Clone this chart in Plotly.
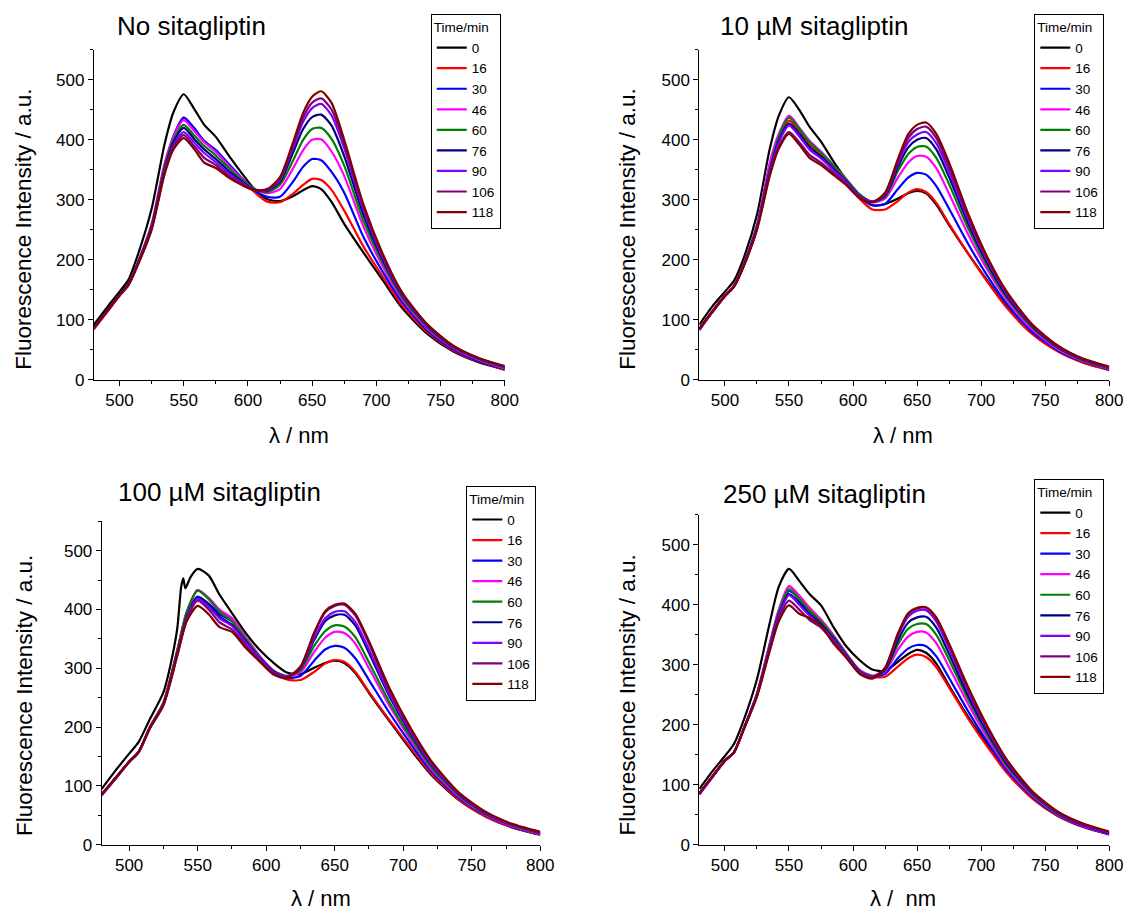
import plotly.graph_objects as go

# ---------------- data ----------------
wavelength = [480, 490, 500, 507, 515, 525, 535, 542, 550, 558, 566, 575, 585, 595, 605,
              615, 625, 635, 643, 650, 657, 665, 675, 690, 705, 720, 740, 760, 780, 800]
# panel 3, t = 0 has a small spike near 540 nm, so it has its own wavelength list
wavelength_p3_t0 = [480, 490, 500, 507, 515, 525, 530, 535, 538, 539.5, 541, 545, 550, 558, 566,
                    575, 585, 595, 605, 615, 625, 635, 643, 650, 657, 665, 675, 690, 705, 720,
                    740, 760, 780, 800]

times = ["0", "16", "30", "46", "60", "76", "90", "106", "118"]
panel_titles = ["No sitagliptin", "10 µM sitagliptin", "100 µM sitagliptin", "250 µM sitagliptin"]
x_titles = ["λ / nm", "λ / nm", "λ / nm", "λ /\u00a0 nm"]
y_title = "Fluorescence Intensity / a.u."
colors = ["#000000", "#FF0000", "#0000FF", "#FF00FF", "#008000", "#000080", "#8000FF", "#800080", "#800000"]
x_tick_values = [500, 550, 600, 650, 700, 750, 800]
y_tick_values = [0, 100, 200, 300, 400, 500]

# Panel 1: no sitagliptin
p1_t0 = [92, 120, 147, 167, 213, 285, 392, 446, 476, 452, 425, 405, 374, 345, 318, 301, 298, 306, 316, 323, 318, 297, 260, 212, 166, 120, 76, 47, 29, 17]
p1_t16 = [84, 112, 140, 158, 197, 255, 355, 405, 437, 418, 398, 382, 358, 335, 313, 297, 296, 310, 325, 335, 333, 317, 282, 222, 172, 124, 79, 49, 30, 17]
p1_t30 = [86, 113, 141, 159, 198, 257, 355, 406, 437, 420, 398, 383, 360, 337, 316, 305, 305, 330, 355, 368, 366, 347, 312, 238, 180, 130, 82, 51, 31, 18]
p1_t46 = [86, 113, 141, 160, 200, 260, 360, 405, 433, 415, 396, 380, 357, 336, 318, 311, 318, 352, 383, 400, 401, 381, 340, 255, 189, 135, 85, 53, 33, 19]
p1_t60 = [87, 114, 142, 160, 199, 257, 355, 400, 425, 408, 390, 374, 353, 334, 318, 313, 325, 365, 400, 418, 420, 402, 357, 265, 195, 138, 87, 54, 34, 20]
p1_t76 = [87, 114, 142, 160, 198, 255, 350, 396, 420, 402, 384, 368, 348, 331, 317, 315, 330, 378, 418, 438, 442, 424, 373, 275, 200, 141, 89, 55, 35, 21]
p1_t90 = [86, 113, 141, 159, 197, 253, 347, 391, 413, 396, 378, 363, 344, 329, 316, 316, 333, 386, 430, 453, 460, 441, 386, 283, 204, 143, 90, 56, 35, 21]
p1_t106 = [86, 113, 141, 159, 196, 252, 345, 388, 408, 390, 370, 358, 340, 327, 316, 317, 335, 390, 437, 462, 469, 451, 393, 288, 207, 145, 91, 56, 36, 22]
p1_t118 = [87, 114, 141, 158, 195, 250, 342, 384, 403, 385, 362, 353, 337, 325, 316, 318, 338, 395, 445, 472, 481, 462, 400, 292, 210, 146, 92, 57, 36, 23]

# Panel 2: 10 uM sitagliptin
p2_t0 = [92, 122, 147, 165, 205, 275, 385, 440, 471, 450, 422, 397, 363, 333, 306, 291, 293, 302, 311, 315, 311, 292, 258, 210, 165, 122, 78, 48, 29, 17]
p2_t16 = [83, 112, 139, 155, 192, 255, 350, 400, 432, 415, 392, 376, 352, 328, 302, 284, 284, 298, 312, 318, 313, 295, 260, 210, 163, 120, 76, 47, 28, 16]
p2_t30 = [85, 113, 140, 156, 194, 257, 352, 404, 440, 420, 398, 380, 356, 332, 306, 291, 293, 318, 337, 345, 342, 323, 285, 226, 173, 127, 80, 49, 30, 17]
p2_t46 = [84, 113, 140, 156, 194, 258, 362, 410, 440, 420, 398, 380, 357, 334, 309, 296, 302, 337, 362, 373, 372, 353, 310, 242, 183, 133, 84, 51, 31, 18]
p2_t60 = [85, 113, 140, 156, 193, 256, 352, 405, 437, 418, 396, 378, 356, 333, 309, 297, 305, 348, 376, 388, 389, 370, 326, 252, 189, 137, 87, 53, 32, 19]
p2_t76 = [85, 113, 140, 156, 193, 254, 348, 398, 427, 410, 388, 372, 351, 330, 307, 297, 307, 355, 387, 400, 403, 384, 338, 260, 194, 140, 89, 54, 33, 20]
p2_t90 = [83, 113, 140, 156, 192, 253, 346, 395, 424, 406, 384, 369, 349, 329, 306, 297, 309, 360, 396, 409, 413, 394, 347, 266, 198, 143, 90, 55, 34, 20]
p2_t106 = [84, 113, 140, 156, 192, 251, 342, 388, 413, 396, 375, 362, 344, 326, 304, 296, 310, 364, 403, 418, 422, 403, 355, 271, 201, 145, 91, 56, 34, 21]
p2_t118 = [85, 114, 140, 155, 191, 250, 340, 385, 410, 392, 370, 358, 341, 324, 303, 296, 312, 368, 409, 425, 429, 410, 362, 276, 204, 147, 92, 57, 35, 22]

# Panel 3: 100 uM sitagliptin
p3_t0 = [95, 126, 155, 175, 213, 259, 304, 366, 439, 453, 436, 456, 469, 458, 425, 394, 360, 332, 310, 293, 290, 301, 309, 313, 309, 292, 258, 210, 163, 120, 77, 48, 29, 17]
p3_t16 = [84, 112, 141, 158, 200, 242, 330, 395, 433, 418, 397, 385, 352, 320, 296, 281, 280, 294, 308, 314, 311, 294, 260, 212, 166, 122, 78, 48, 29, 17]
p3_t30 = [85, 112, 141, 158, 199, 240, 327, 390, 422, 410, 392, 380, 350, 320, 296, 284, 287, 313, 332, 338, 335, 317, 280, 224, 173, 126, 81, 50, 30, 18]
p3_t46 = [84, 112, 141, 158, 199, 241, 328, 395, 433, 420, 400, 385, 353, 322, 297, 286, 293, 328, 352, 362, 360, 342, 300, 236, 180, 130, 83, 51, 31, 18]
p3_t60 = [85, 113, 141, 158, 199, 241, 329, 396, 432, 418, 396, 380, 350, 320, 296, 287, 297, 338, 363, 373, 371, 353, 310, 242, 184, 133, 85, 52, 32, 19]
p3_t76 = [85, 113, 141, 158, 198, 239, 325, 388, 420, 408, 388, 374, 346, 318, 295, 286, 300, 348, 380, 390, 391, 373, 326, 252, 190, 137, 87, 53, 33, 20]
p3_t90 = [85, 113, 141, 158, 198, 239, 324, 386, 418, 405, 385, 372, 344, 317, 294, 286, 301, 352, 385, 396, 397, 379, 332, 256, 193, 139, 88, 54, 33, 20]
p3_t106 = [86, 113, 141, 158, 198, 238, 322, 383, 415, 400, 378, 366, 339, 314, 292, 285, 303, 360, 395, 406, 408, 390, 342, 262, 197, 142, 89, 55, 34, 21]
p3_t118 = [86, 114, 141, 158, 197, 237, 320, 380, 406, 392, 370, 362, 335, 312, 290, 283, 302, 360, 397, 408, 410, 393, 346, 266, 200, 144, 90, 56, 35, 22]

# Panel 4: 250 uM sitagliptin
p4_t0 = [93, 122, 148, 168, 210, 276, 370, 430, 460, 440, 418, 399, 362, 330, 308, 292, 290, 305, 318, 325, 320, 302, 265, 213, 167, 123, 78, 48, 30, 18]
p4_t16 = [84, 112, 140, 153, 195, 252, 335, 390, 431, 415, 395, 375, 348, 318, 291, 280, 280, 297, 311, 317, 313, 296, 262, 210, 163, 120, 77, 48, 29, 17]
p4_t30 = [85, 113, 140, 154, 195, 250, 332, 385, 423, 410, 390, 372, 346, 317, 291, 281, 285, 311, 327, 333, 331, 314, 278, 222, 171, 125, 80, 49, 30, 17]
p4_t46 = [84, 112, 140, 154, 196, 252, 336, 392, 431, 415, 394, 375, 348, 318, 291, 282, 289, 325, 347, 355, 354, 336, 296, 234, 178, 129, 82, 50, 31, 18]
p4_t60 = [85, 113, 140, 154, 195, 251, 333, 388, 426, 410, 390, 372, 346, 317, 290, 281, 291, 334, 360, 368, 368, 350, 308, 242, 183, 132, 84, 51, 32, 19]
p4_t76 = [85, 113, 140, 154, 195, 250, 330, 383, 418, 404, 385, 368, 343, 315, 289, 280, 292, 341, 370, 379, 380, 362, 318, 248, 187, 135, 86, 52, 32, 19]
p4_t90 = [84, 112, 140, 154, 195, 250, 329, 381, 416, 400, 382, 365, 341, 314, 288, 280, 294, 348, 380, 390, 391, 372, 327, 254, 191, 138, 87, 53, 33, 20]
p4_t106 = [85, 113, 140, 154, 194, 248, 326, 377, 407, 392, 375, 362, 338, 312, 287, 279, 295, 351, 384, 394, 395, 377, 332, 258, 194, 140, 88, 54, 34, 21]
p4_t118 = [86, 114, 141, 154, 194, 247, 323, 372, 399, 385, 378, 365, 335, 311, 285, 277, 295, 352, 386, 395, 396, 379, 335, 262, 197, 142, 89, 55, 35, 22]

panels = [
    [p1_t0, p1_t16, p1_t30, p1_t46, p1_t60, p1_t76, p1_t90, p1_t106, p1_t118],
    [p2_t0, p2_t16, p2_t30, p2_t46, p2_t60, p2_t76, p2_t90, p2_t106, p2_t118],
    [p3_t0, p3_t16, p3_t30, p3_t46, p3_t60, p3_t76, p3_t90, p3_t106, p3_t118],
    [p4_t0, p4_t16, p4_t30, p4_t46, p4_t60, p4_t76, p4_t90, p4_t106, p4_t118],
]

# ---------------- layout geometry ----------------
W, H = 1142, 921
FONT = "Liberation Sans, Arial, sans-serif"

# pixel boxes of the four plot areas: (x_left, x_right, y_bottom(0), y_top(550))
boxes = [(95, 511, 384, 50.4), (708, 1123, 384, 50.4), (103, 547, 854, 527), (708, 1123, 854, 520.5)]
legend_pos = [(507, 14), (1118, 14), (543, 491), (1118, 484)]
title_pos = [(116, 26), (727, 26), (117, 497), (730, 499)]
ytitle_pos = [(23.6, 232), (635, 232), (25.5, 703.5), (635.5, 702.5)]
xtitle_pos = [(303, 440), (914, 440), (325, 908), (914, 908)]

fig = go.Figure()
suffixes = ["", "2", "3", "4"]
for p, series in enumerate(panels):
    s = suffixes[p]
    for i, vals in enumerate(series):
        xs = wavelength_p3_t0 if (p == 2 and i == 0) else wavelength
        fig.add_trace(go.Scatter(
            x=xs, y=vals, mode="lines", name=times[i],
            line=dict(color=colors[i], width=2.2, shape="spline", smoothing=0.7),
            xaxis="x" + s, yaxis="y" + s, legend="legend" + s,
            showlegend=True, hoverinfo="skip",
        ))

layout = dict(
    width=W, height=H, autosize=False,
    margin=dict(l=0, r=0, t=0, b=0),
    paper_bgcolor="white", plot_bgcolor="white",
    font=dict(family=FONT, color="black"),
    annotations=[],
)

for p in range(4):
    s = suffixes[p]
    xl, xr, yb, yt = boxes[p]
    axis_common = dict(
        showline=True, linecolor="black", linewidth=1, mirror=False,
        showgrid=False, zeroline=False, ticks="outside", ticklen=5, tickwidth=1,
        tickcolor="black", tickfont=dict(family=FONT, size=17, color="black"),
    )
    layout["xaxis" + s] = dict(
        axis_common, domain=[xl / W, xr / W], range=[480, 800],
        tickmode="array", tickvals=x_tick_values, anchor="y" + s,
        minor=dict(dtick=25, tick0=500, ticks="outside", ticklen=3, tickcolor="black", tickwidth=1),
    )
    layout["yaxis" + s] = dict(
        axis_common, domain=[1 - yb / H, 1 - yt / H], range=[0, 550],
        tickmode="array", tickvals=y_tick_values, anchor="x" + s,
        minor=dict(dtick=50, tick0=0, ticks="outside", ticklen=3, tickcolor="black", tickwidth=1),
    )
    lx, ly = legend_pos[p]
    layout["legend" + s] = dict(
        x=lx / W, y=1 - ly / H, xanchor="right", yanchor="top",
        bgcolor="white", bordercolor="black", borderwidth=1,
        font=dict(family=FONT, size=13.5, color="black"),
        title=dict(text="Time/min", font=dict(family=FONT, size=13.5, color="black")),
        itemwidth=30, tracegroupgap=0,
    )
    tx, ty = title_pos[p]
    layout["annotations"].append(dict(
        text=panel_titles[p], x=tx / W, y=1 - ty / H, xref="paper", yref="paper",
        xanchor="left", yanchor="middle", showarrow=False,
        font=dict(family=FONT, size=26, color="black"),
    ))
    yx, yy = ytitle_pos[p]
    layout["annotations"].append(dict(
        text=y_title, x=yx / W, y=1 - yy / H, xref="paper", yref="paper",
        xanchor="center", yanchor="middle", textangle=-90, showarrow=False,
        font=dict(family=FONT, size=22.5, color="black"),
    ))
    xx, xy = xtitle_pos[p]
    layout["annotations"].append(dict(
        text=x_titles[p], x=xx / W, y=1 - xy / H, xref="paper", yref="paper",
        xanchor="center", yanchor="middle", showarrow=False,
        font=dict(family=FONT, size=22, color="black"),
    ))

fig.update_layout(**layout)
fig.write_html("out.html")
